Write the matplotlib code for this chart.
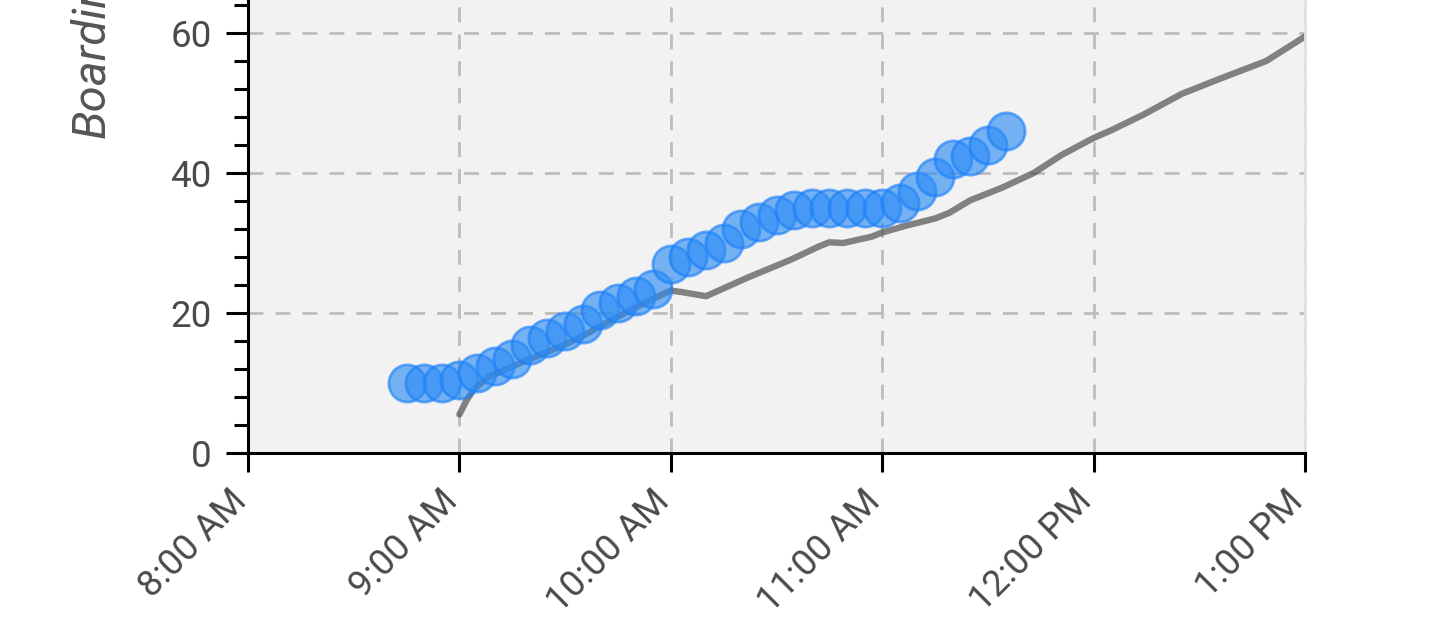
import matplotlib
matplotlib.use("Agg")
import matplotlib.pyplot as plt
from matplotlib.ticker import MultipleLocator
import pandas as pd

plt.rcParams['font.family'] = ['Roboto', 'DejaVu Sans']

# ---- data ----
point_times = ["08:45", "08:50", "08:55", "09:00", "09:05", "09:10", "09:15", "09:20",
               "09:25", "09:30", "09:35", "09:40", "09:45", "09:50", "09:55", "10:00",
               "10:05", "10:10", "10:15", "10:20", "10:25", "10:30", "10:35", "10:40",
               "10:45", "10:50", "10:55", "11:00", "11:05", "11:10", "11:15", "11:20",
               "11:25", "11:30", "11:35"]
point_values = [10, 10, 10, 10.5, 11.5, 12.5, 13.5, 15.5,
                16.5, 17.5, 18.5, 20.5, 21.5, 22.5, 23.5, 27,
                28, 29, 30, 32, 33, 34, 34.7, 35,
                35, 35, 35, 35, 35.7, 37.5, 39.5, 42,
                42.5, 44, 46]

line_times = ["09:00", "09:02", "09:04", "09:08", "09:18", "09:30", "09:36", "09:45",
              "09:54", "10:00", "10:03", "10:10", "10:22", "10:34", "10:42", "10:45",
              "10:49", "10:57", "11:00", "11:07", "11:15", "11:19", "11:25", "11:34",
              "11:43", "11:51", "12:00", "12:05", "12:14", "12:25", "12:35", "12:49",
              "13:00"]
line_values = [5.5, 7.5, 9.0, 10.8, 13.0, 15.5, 17.0, 19.5,
               21.8, 23.2, 23.0, 22.4, 25.1, 27.6, 29.5, 30.1,
               30.0, 30.9, 31.5, 32.5, 33.5, 34.3, 36.1, 37.9,
               40.0, 42.6, 45.0, 46.1, 48.3, 51.3, 53.3, 56.0,
               59.5]

x_tick_times = ["08:00", "09:00", "10:00", "11:00", "12:00", "13:00"]
x_tick_labels = ["8:00 AM", "9:00 AM", "10:00 AM", "11:00 AM", "12:00 PM", "1:00 PM"]
y_ticks = [0, 20, 40, 60]

day = "2024-01-01 "
pt = pd.to_datetime([day + t for t in point_times])
lt = pd.to_datetime([day + t for t in line_times])
xt = pd.to_datetime([day + t for t in x_tick_times])

fig = plt.figure(figsize=(14.38, 6.32), dpi=100)
ax = fig.add_axes([248/1438, 179/632, 1057/1438, 462/632])
ax.set_facecolor('#f2f2f2')

ax.plot(lt, line_values, color='#555555', lw=4.6, alpha=0.72,
        solid_capstyle='round', solid_joinstyle='round', zorder=2)
ax.scatter(pt, point_values, s=720, color='#2b8cf5', alpha=0.63, edgecolors='#1a7ffa',
           linewidths=2, zorder=3)

ax.set_xlim(xt[0], xt[-1])
ax.set_ylim(0, 66)
ax.set_xticks(xt)
ax.set_xticklabels(x_tick_labels, rotation=45, ha='right', va='baseline',
                   rotation_mode='anchor')
ax.set_yticks(y_ticks)
ax.yaxis.set_minor_locator(MultipleLocator(4))

ax.grid(True, which='major', color='#bdbdbd', lw=2.0, linestyle=(0, (5.4, 4.3)), zorder=1)
ax.set_axisbelow(True)

ax.spines['top'].set_visible(False)
ax.spines['right'].set_color('#e2e2e2')
ax.spines['right'].set_linewidth(2)
for s in ['left', 'bottom']:
    ax.spines[s].set_color('black')
    ax.spines[s].set_linewidth(2.2)

ax.tick_params(axis='y', which='major', length=16, width=2.2, color='black',
               labelsize=26.5, labelcolor='#4a4a4a', pad=10)
ax.tick_params(axis='y', which='minor', length=10, width=2.2, color='black')
ax.tick_params(axis='x', which='major', length=14, width=2.2, color='black',
               labelsize=26.5, labelcolor='#4a4a4a', pad=22)

fig.text(91/1438, (632-138)/632, "Boardings", rotation=90, ha='center', va='bottom',
         fontsize=34, style='italic', color='#555555')

fig.savefig("out.png", dpi=100)
